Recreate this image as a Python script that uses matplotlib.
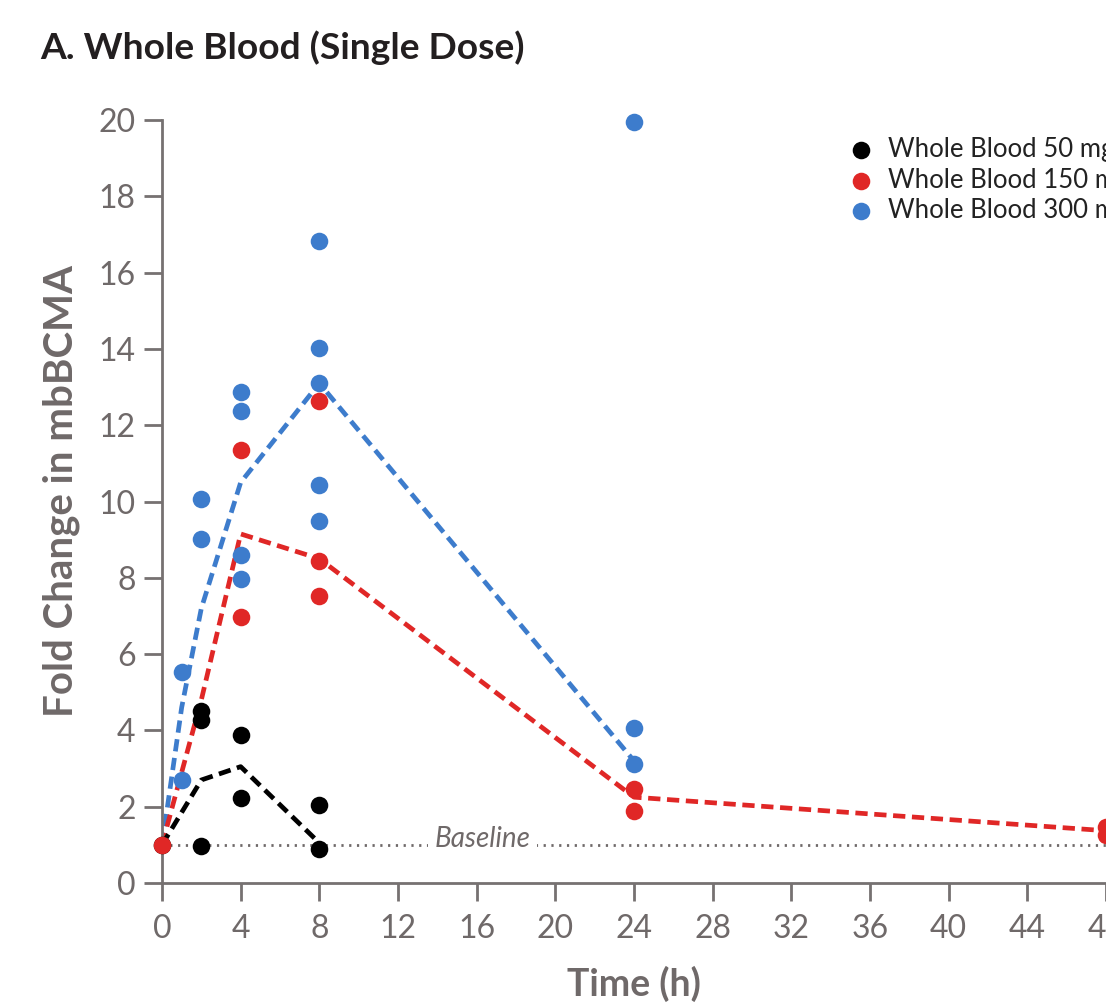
import matplotlib
matplotlib.use("Agg")
import matplotlib.pyplot as plt

# ---- data ----
t50 = [0, 2, 2, 2, 4, 4, 8, 8]
v50 = [1.0, 4.5, 4.27, 0.97, 3.88, 2.23, 2.04, 0.89]
t150 = [0, 4, 4, 8, 8, 8, 24, 24, 48, 48]
v150 = [1.0, 11.35, 6.97, 12.63, 8.44, 7.52, 2.46, 1.89, 1.47, 1.26]
t300 = [1, 1, 2, 2, 4, 4, 4, 4, 8, 8, 8, 8, 8, 24, 24, 24]
v300 = [2.7, 5.53, 10.07, 9.02, 12.87, 12.37, 8.6, 7.97, 16.83, 14.02, 13.1, 10.43, 9.49, 19.95, 4.06, 3.12]

line50_t = [0, 2, 4, 8]
line50_v = [1.0, 2.7, 3.05, 1.05]
line150_t = [0, 2, 4, 8, 24, 48]
line150_v = [1.0, 4.8, 9.15, 8.5, 2.25, 1.37]
line300_t = [0, 1, 2, 4, 8, 24]
line300_v = [1.0, 4.6, 7.2, 10.5, 13.1, 3.2]

labels = ["Whole Blood 50 mg", "Whole Blood 150 mg", "Whole Blood 300 mg"]
xticks = list(range(0, 49, 4))
yticks = list(range(0, 21, 2))

BLACK = "#000000"
RED = "#e02726"
BLUE = "#3d7ccc"
GRAY = "#6f6969"
AX = "#767171"

plt.rcParams['font.family'] = ['Lato', 'DejaVu Sans']

fig = plt.figure(figsize=(11.06, 10.08), dpi=100)
ax = fig.add_axes([162/1106, 125/1008, 1 - 162/1106, (883-120)/1008])
ax.set_xlim(0, 48)
ax.set_ylim(0, 20)

dash = (2.6, 1.4)
lw = 3.4
ax.plot(line300_t, line300_v, color=BLUE, lw=lw, ls=(0, dash), zorder=2)
ax.plot(line150_t, line150_v, color=RED, lw=lw, ls=(0, dash), zorder=2)
ax.plot(line50_t, line50_v, color=BLACK, lw=lw, ls=(0, dash), zorder=2)

ax.plot([0, 48], [1, 1], color=GRAY, lw=2, ls=(0, (0.8, 2.0)), zorder=1)
ax.text(16.3, 1.15, "Baseline", style='italic', fontsize=20, color=GRAY,
        ha='center', va='center', zorder=1.5,
        bbox=dict(facecolor='white', edgecolor='none', pad=5))

s = 160
ax.scatter(t300, v300, s=s, color=BLUE, zorder=3, linewidths=0, clip_on=False, label=labels[2])
ax.scatter(t50, v50, s=s, color=BLACK, zorder=4, linewidths=0, clip_on=False, label=labels[0])
ax.scatter(t150, v150, s=s, color=RED, zorder=5, linewidths=0, clip_on=False, label=labels[1])

h, l = ax.get_legend_handles_labels()
order = [1, 2, 0]
leg = ax.legend([h[i] for i in order], [l[i] for i in order], loc='upper left',
                bbox_to_anchor=(0.702, 0.991), frameon=False, fontsize=18.5,
                handletextpad=0.05, labelspacing=0.21, borderaxespad=0, scatterpoints=1,
                markerscale=1.0)
for txt in leg.get_texts():
    txt.set_color("#222222")

for side in ['top', 'right']:
    ax.spines[side].set_visible(False)
for side in ['left', 'bottom']:
    ax.spines[side].set_color(AX)
    ax.spines[side].set_linewidth(2)

ax.set_xticks(xticks)
ax.set_yticks(yticks)
ax.tick_params(axis='both', colors=AX, width=2, length=13, labelsize=23, labelcolor=GRAY)
ax.tick_params(axis='x', pad=9)
ax.tick_params(axis='y', pad=6)

ax.set_ylabel("Fold Change in mbBCMA", fontsize=29, fontweight='bold', color=GRAY)
ax.yaxis.set_label_coords(-0.087, 0.514)
ax.set_xlabel("Time (h)", fontsize=27, fontweight='bold', color=GRAY)
ax.xaxis.set_label_coords(0.5, -0.108)

fig.text(40/1106, 1 - 48/1008, "A. Whole Blood (Single Dose)", fontsize=26.7,
         fontweight='bold', color="#231f20", ha='left', va='center')

fig.savefig("out.png", dpi=100)
